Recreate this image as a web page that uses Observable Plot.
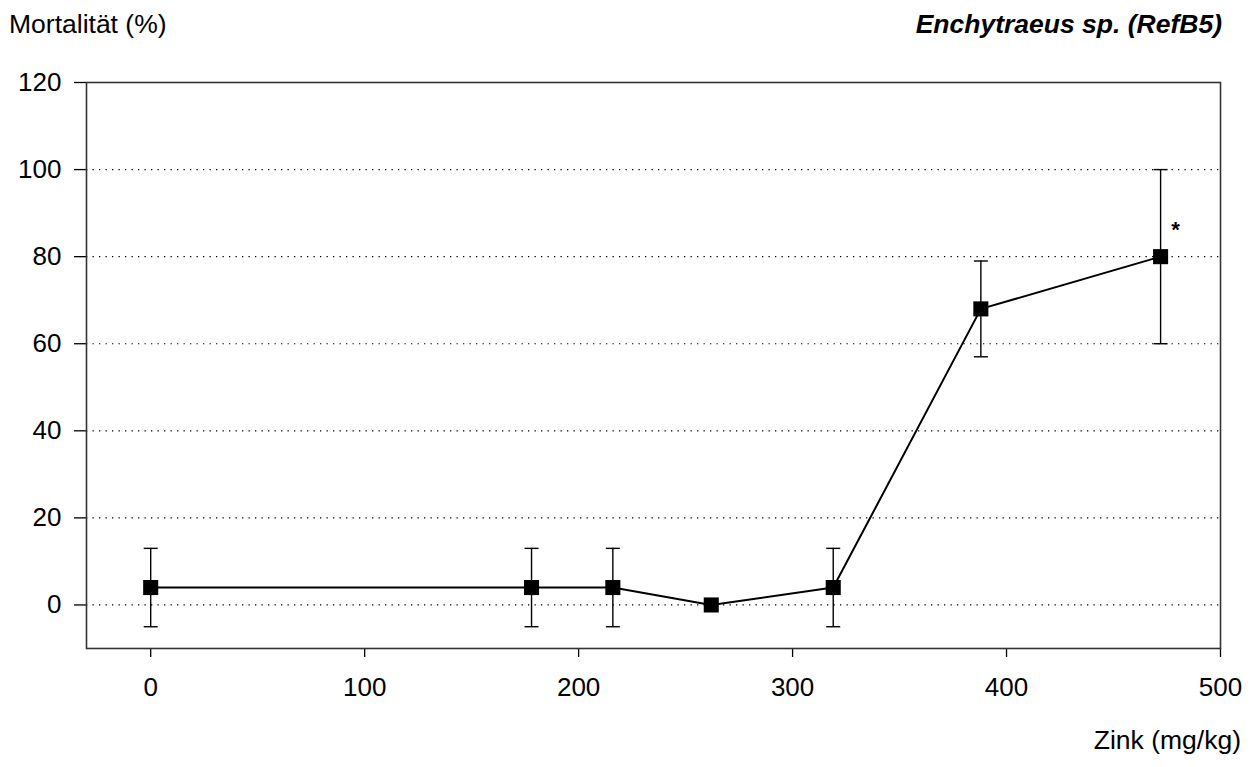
<!DOCTYPE html>
<html>
<head>
<meta charset="utf-8">
<script src="https://cdn.jsdelivr.net/npm/d3@7"></script>
<script src="https://cdn.jsdelivr.net/npm/@observablehq/plot@0.6"></script>
<style>
  html, body { margin: 0; padding: 0; background: #fff; }
  #chart { position: relative; width: 1256px; height: 767px; }
</style>
</head>
<body>
<div id="chart"></div>
<script>
// Data
const zink = [0, 178, 216, 262, 319, 388, 472];
const mortality = [4, 4, 4, 0, 4, 68, 80];
const errLow = [-5, -5, -5, null, -5, 57, 60];
const errHigh = [13, 13, 13, null, 13, 79, 100];
const significant = [false, false, false, false, false, false, true];
const xTicks = [0, 100, 200, 300, 400, 500];
const yTicks = [0, 20, 40, 60, 80, 100, 120];
const gridTicks = [0, 20, 40, 60, 80, 100];
const yTitle = "Mortalität (%)";
const chartTitle = "Enchytraeus sp. (RefB5)";
const xTitle = "Zink (mg/kg)";

const rows = zink.map((x, i) => ({x, y: mortality[i], lo: errLow[i], hi: errHigh[i], sig: significant[i]}));
const errRows = rows.filter(d => d.lo != null);
const sigRows = rows.filter(d => d.sig);

const capSymbol = {
  draw(ctx, size) {
    const w = Math.sqrt(size / Math.PI);
    ctx.moveTo(-w, 0);
    ctx.lineTo(w, 0);
  }
};

const font = "'Liberation Sans', Arial, sans-serif";

const plot = Plot.plot({
  width: 1256,
  height: 767,
  marginLeft: 86,
  marginRight: 36,
  marginTop: 82,
  marginBottom: 119,
  style: {fontFamily: font, fontSize: "26px", color: "#000", background: "#fff"},
  x: {domain: [-30, 500]},
  y: {domain: [-10, 120]},
  marks: [
    Plot.gridY(gridTicks, {stroke: "#000", strokeOpacity: 1, strokeWidth: 1.2, strokeDasharray: "1.3,5.2"}),
    Plot.axisY(yTicks, {tickSize: 12, tickPadding: 13, label: null, fontSize: 26, strokeWidth: 1.3}),
    Plot.axisX(xTicks, {tickSize: 9, tickPadding: 20, label: null, fontSize: 26, strokeWidth: 1.3}),
    Plot.ruleX(errRows, {x: "x", y1: "lo", y2: "hi", stroke: "#000", strokeWidth: 1.4}),
    Plot.dot(errRows, {x: "x", y: "lo", symbol: capSymbol, r: 7, stroke: "#000", strokeWidth: 1.4, fill: "none"}),
    Plot.dot(errRows, {x: "x", y: "hi", symbol: capSymbol, r: 7, stroke: "#000", strokeWidth: 1.4, fill: "none"}),
    Plot.line(rows, {x: "x", y: "y", stroke: "#000", strokeWidth: 2}),
    Plot.dot(rows, {x: "x", y: "y", symbol: "square", r: 8.5, fill: "#000", stroke: "none"}),
    Plot.text(sigRows, {x: "x", y: "y", text: () => "*", dx: 15, dy: -27, fontSize: 22, fontWeight: "bold", fill: "#000"}),
    Plot.frame({stroke: "#333", strokeWidth: 1.6})
  ]
});

const svg = d3.select(plot);
svg.append("text")
  .attr("x", 9).attr("y", 33)
  .attr("text-anchor", "start")
  .attr("font-family", font).attr("font-size", 26.5).attr("fill", "#000")
  .text(yTitle);
svg.append("text")
  .attr("x", 1222).attr("y", 33)
  .attr("text-anchor", "end")
  .attr("font-family", font).attr("font-size", 26.5)
  .attr("font-weight", "bold").attr("font-style", "italic").attr("fill", "#000")
  .text(chartTitle);
svg.append("text")
  .attr("x", 1241).attr("y", 749)
  .attr("text-anchor", "end")
  .attr("font-family", font).attr("font-size", 26.5).attr("fill", "#000")
  .text(xTitle);

document.getElementById("chart").appendChild(plot);
</script>
</body>
</html>
